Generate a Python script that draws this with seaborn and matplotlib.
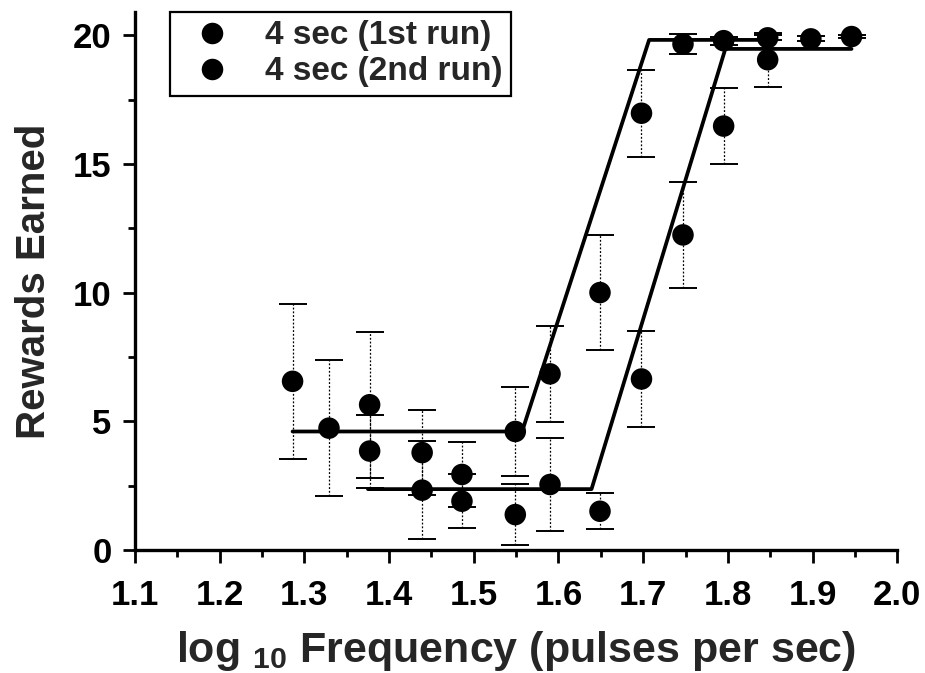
import numpy as np
import pandas as pd
import matplotlib
matplotlib.use("Agg")
import matplotlib.pyplot as plt
from matplotlib.ticker import MultipleLocator, FormatStrFormatter
import seaborn as sns

# Rewards earned per frequency, two runs of the 4 sec condition
run_labels = ["4 sec (1st run)", "4 sec (2nd run)"]

x_run1 = [1.286, 1.329, 1.377, 1.439, 1.486, 1.549, 1.590, 1.649, 1.698, 1.747, 1.795, 1.847]
y_run1 = [6.55, 4.73, 5.64, 3.78, 2.93, 4.60, 6.84, 10.00, 16.97, 19.66, 19.79, 19.90]
err_run1 = [3.0, 2.65, 2.84, 1.66, 1.26, 1.72, 1.86, 2.25, 1.69, 0.40, 0.15, 0.10]

x_run2 = [1.377, 1.439, 1.486, 1.549, 1.590, 1.649, 1.698, 1.747, 1.795, 1.847, 1.898, 1.946]
y_run2 = [3.84, 2.32, 1.89, 1.37, 2.54, 1.50, 6.64, 12.24, 16.47, 19.05, 19.86, 19.95]
err_run2 = [1.42, 1.90, 1.04, 1.20, 1.80, 0.70, 1.87, 2.05, 1.47, 1.05, 0.10, 0.05]

# Piecewise-linear (floor / ramp / ceiling) fits for each run
fit1_x = [1.286, 1.557, 1.707, 1.847]
fit1_y = [4.60, 4.60, 19.82, 19.82]
fit2_x = [1.375, 1.639, 1.797, 1.946]
fit2_y = [2.36, 2.36, 19.47, 19.47]

x_ticks = [1.1, 1.2, 1.3, 1.4, 1.5, 1.6, 1.7, 1.8, 1.9, 2.0]
y_ticks = [0, 5, 10, 15, 20]

sns.set_style("ticks")
plt.rcParams["font.family"] = ["Liberation Sans", "DejaVu Sans"]
plt.rcParams["font.weight"] = "bold"
plt.rcParams["mathtext.fontset"] = "custom"
plt.rcParams["mathtext.rm"] = "Liberation Sans:bold"
plt.rcParams["mathtext.it"] = "Liberation Sans:bold"
plt.rcParams["mathtext.bf"] = "Liberation Sans:bold"

points = pd.DataFrame({
    "freq": x_run1 + x_run2,
    "rewards": y_run1 + y_run2,
    "run": [run_labels[0]] * len(x_run1) + [run_labels[1]] * len(x_run2),
})
fits = pd.DataFrame({
    "freq": fit1_x + fit2_x,
    "rewards": fit1_y + fit2_y,
    "run": [run_labels[0]] * len(fit1_x) + [run_labels[1]] * len(fit2_x),
})

fig = plt.figure(figsize=(9.25, 6.73), dpi=100)
ax = fig.add_axes([0.146, 0.183, 0.824, 0.799])

# Dotted error bars with solid caps
for xs, ys, es in [(x_run1, y_run1, err_run1), (x_run2, y_run2, err_run2)]:
    eb = ax.errorbar(xs, ys, yerr=es, fmt="none", ecolor="black", elinewidth=0.9,
                     capsize=10, capthick=1.4, zorder=1)
    eb[2][0].set_linestyle((0, (1.5, 1.5)))

sns.lineplot(data=fits, x="freq", y="rewards", units="run", estimator=None,
             color="black", linewidth=2.7, sort=False, ax=ax, zorder=2, legend=False)

palette = {run_labels[0]: "black", run_labels[1]: "black"}
sns.scatterplot(data=points, x="freq", y="rewards", hue="run", palette=palette,
                s=240, edgecolor="none", ax=ax, zorder=3)

ax.set_xlim(1.1, 2.0)
ax.set_ylim(0, 20.9)
ax.set_xticks(x_ticks)
ax.set_yticks(y_ticks)
ax.xaxis.set_minor_locator(MultipleLocator(0.05))
ax.yaxis.set_minor_locator(MultipleLocator(2.5))
ax.xaxis.set_major_formatter(FormatStrFormatter("%.1f"))
ax.yaxis.set_major_formatter(FormatStrFormatter("%d"))

sns.despine(ax=ax)
for side in ["left", "bottom"]:
    ax.spines[side].set_linewidth(2.4)
    ax.spines[side].set_color("black")
ax.tick_params(axis="x", which="major", pad=12)
ax.tick_params(axis="y", which="major", pad=8)
ax.tick_params(axis="both", which="major", direction="out", length=9, width=2,
               labelsize=25, colors="black")
ax.tick_params(axis="both", which="minor", direction="out", length=5, width=2, colors="black")
for lab in ax.get_xticklabels() + ax.get_yticklabels():
    lab.set_fontweight("bold")

ax.set_xlabel(r"log $_{10}$ Frequency (pulses per sec)", fontsize=31, fontweight="bold", labelpad=12)
ax.set_ylabel("Rewards Earned", fontsize=29, fontweight="bold", labelpad=14)

handles, labels = ax.get_legend_handles_labels()
leg = ax.legend(handles, labels, loc="upper left", bbox_to_anchor=(0.046, 1.0),
                borderaxespad=0, frameon=True, fancybox=False, edgecolor="black",
                prop={"weight": "bold", "size": 24}, handletextpad=0.6,
                borderpad=0.25, labelspacing=0.15, markerscale=1.0)
leg.get_frame().set_linewidth(1.6)
leg.get_frame().set_facecolor("white")
leg.get_frame().set_alpha(1)

fig.savefig("out.png", dpi=100)
